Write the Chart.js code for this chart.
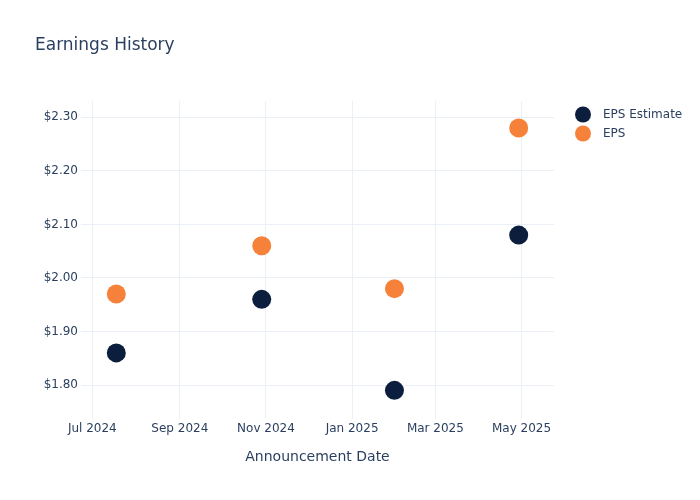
<!DOCTYPE html>
<html>
<head>
<meta charset="utf-8">
<title>Earnings History</title>
<script src="https://cdn.jsdelivr.net/npm/chart.js@4"></script>
<style>
  body { margin: 0; background: #fff; }
  #wrap { width: 700px; height: 500px; }
</style>
</head>
<body>
<div id="wrap"><canvas id="chart" width="700" height="500"></canvas></div>
<script>
// announcement dates and values
const announceDates = ['2024-07-18', '2024-10-29', '2025-01-31', '2025-04-29'];
const epsEstimate = [1.86, 1.96, 1.79, 2.08];
const epsActual = [1.97, 2.06, 1.98, 2.28];

const xTickDates = ['2024-07-01', '2024-09-01', '2024-11-01', '2025-01-01', '2025-03-01', '2025-05-01'];
const xTickLabels = ['Jul 2024', 'Sep 2024', 'Nov 2024', 'Jan 2025', 'Mar 2025', 'May 2025'];
const yTicks = [1.8, 1.9, 2.0, 2.1, 2.2, 2.3];

const xMin = Date.parse('2024-06-23');
const xMax = Date.parse('2025-05-24');
const yMin = 1.7365;
const yMax = 2.3305;

const textColor = '#2a3f5f';
const gridColor = '#ebf0f8';
const fontFamily = '"DejaVu Sans", Verdana, sans-serif';

function toPoints(values) {
  return values.map((v, i) => ({ x: Date.parse(announceDates[i]), y: v }));
}

// simple legend on the right, drawn from the datasets
const sideLegend = {
  id: 'sideLegend',
  afterDraw(chart) {
    const ctx = chart.ctx;
    ctx.save();
    ctx.font = '12px ' + fontFamily;
    ctx.textBaseline = 'middle';
    chart.data.datasets.forEach((ds, i) => {
      const y = 114.5 + i * 19;
      ctx.beginPath();
      ctx.arc(583, y, 8, 0, Math.PI * 2);
      ctx.fillStyle = ds.backgroundColor;
      ctx.fill();
      ctx.fillStyle = textColor;
      ctx.fillText(ds.label, 603, y);
    });
    ctx.restore();
  }
};

const ctx = document.getElementById('chart');

new Chart(ctx, {
  type: 'scatter',
  data: {
    datasets: [{
      label: 'EPS Estimate',
      data: toPoints(epsEstimate),
      backgroundColor: '#0b1e3e',
      borderWidth: 0,
      pointRadius: 9.5,
      pointHoverRadius: 9.5
    }, {
      label: 'EPS',
      data: toPoints(epsActual),
      backgroundColor: '#f5813a',
      borderWidth: 0,
      pointRadius: 9.5,
      pointHoverRadius: 9.5
    }]
  },
  options: {
    responsive: false,
    animation: false,
    layout: { padding: { left: 35, right: 146, top: 0, bottom: 0 } },
    plugins: {
      legend: { display: false },
      tooltip: { enabled: false },
      title: {
        display: true,
        text: 'Earnings History',
        align: 'start',
        color: textColor,
        font: { family: fontFamily, size: 17, weight: 'normal' },
        padding: { top: 35, bottom: 45.6 }
      }
    },
    scales: {
      x: {
        type: 'linear',
        min: xMin,
        max: xMax,
        afterBuildTicks: scale => {
          scale.ticks = xTickDates.map(d => ({ value: Date.parse(d) }));
        },
        afterFit: scale => { scale.height = 81; },
        ticks: {
          autoSkip: false,
          maxRotation: 0,
          padding: 3,
          color: textColor,
          font: { family: fontFamily, size: 12 },
          callback: (value, index) => xTickLabels[index]
        },
        grid: { color: gridColor, drawTicks: false },
        border: { display: false },
        title: {
          display: true,
          text: 'Announcement Date',
          color: textColor,
          font: { family: fontFamily, size: 14 },
          padding: { top: 0, bottom: 34.6 }
        }
      },
      y: {
        min: yMin,
        max: yMax,
        afterBuildTicks: scale => {
          scale.ticks = yTicks.map(v => ({ value: v }));
        },
        afterFit: scale => { scale.width = 46; },
        ticks: {
          padding: 3,
          color: textColor,
          font: { family: fontFamily, size: 12 },
          callback: value => '$' + value.toFixed(2)
        },
        grid: { color: gridColor, drawTicks: false },
        border: { display: false }
      }
    }
  },
  plugins: [sideLegend]
});
</script>
</body>
</html>
